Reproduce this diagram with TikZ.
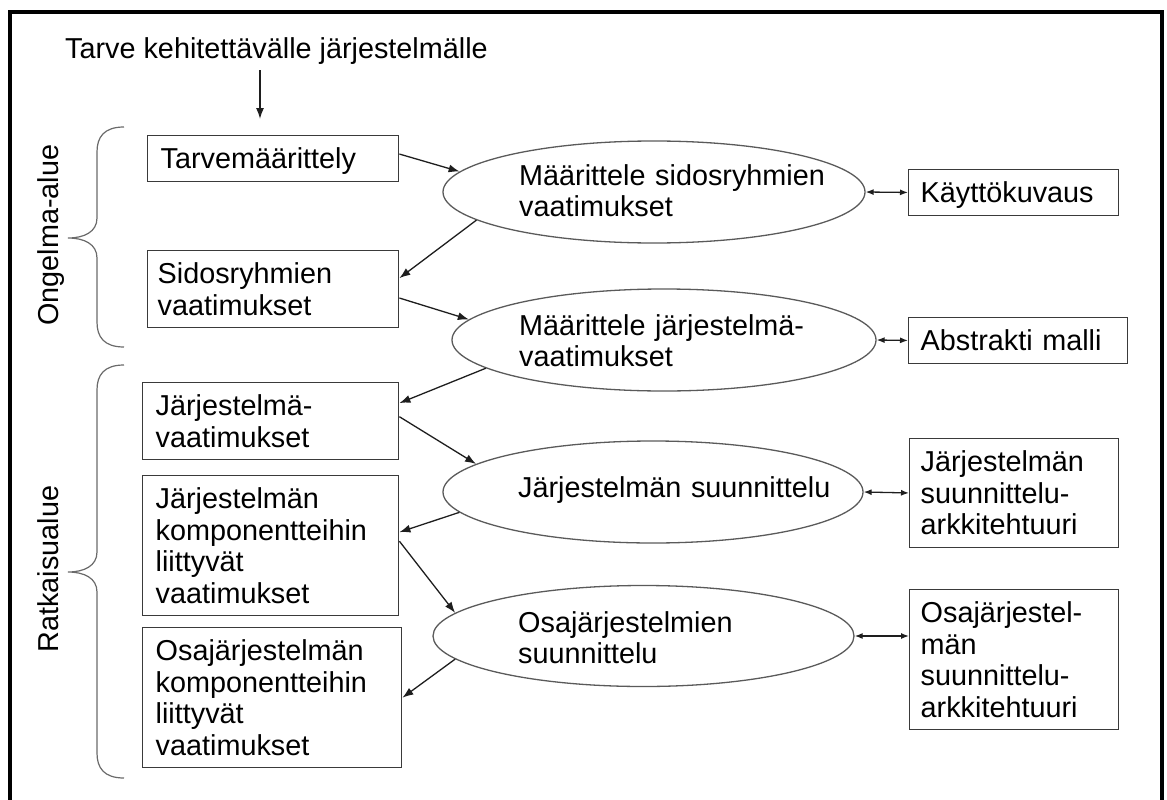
\documentclass[tikz,border=0pt]{standalone}
\usepackage{fontspec}
\setmainfont{Liberation Sans}
\usetikzlibrary{shapes.geometric,arrows.meta}

\definecolor{boxline}{HTML}{3A3A3A}
\definecolor{ellline}{HTML}{5A5A5A}
\definecolor{braceline}{HTML}{6A6A6A}
\definecolor{arrowline}{HTML}{1E1E1E}

\begin{document}
\begin{tikzpicture}[x=1pt,y=-1pt,
  every node/.append style={font=\fontsize{28.8pt}{31.5pt}\selectfont},
  boxnode/.style={draw=boxline, line width=1.4pt, rectangle, anchor=north west,
    inner ysep=12.5pt, text height=20.5pt, align=left},
  procnode/.style={draw=ellline, line width=1.3pt, ellipse, inner sep=0pt},
  proctext/.style={anchor=base west, inner sep=0pt, align=left, text width=340pt},
  flow/.style={draw=arrowline, line width=1.3pt, -{Latex[length=11pt,width=8pt]}},
  link/.style={draw=arrowline, line width=1.3pt,
    {Latex[length=8pt,width=6pt]}-{Latex[length=8pt,width=6pt]}},
  bracket/.style={draw=braceline, line width=1.2pt},
]
\useasboundingbox (0,0) rectangle (1167,800);
\clip (0,0) rectangle (1167,800);

% outer frame (open at the bottom edge of the page)
\draw[line width=4pt] (10,12) rectangle (1162,840);

% starting need and its arrow
\node[anchor=base west, inner xsep=0pt, inner ysep=5pt] (need) at (65,59)
  {Tarve kehitettävälle järjestelmälle};
\coordinate (needtip) at (260,119);
\draw[flow] (need.south -| needtip) -- (needtip);

% requirement boxes, left column
\node[boxnode, inner xsep=13pt, text width=225pt, text depth=0pt] (tarve) at (147,135)
  {Tarvemäärittely};
\node[boxnode, inner xsep=10pt, text width=231pt, text depth=31.5pt] (sidos) at (147,250)
  {Sidosryhmien\\vaatimukset};
\node[boxnode, inner xsep=13pt, text width=230pt, text depth=31.5pt] (jvaat) at (142,382)
  {Järjestelmä-\\vaatimukset};
\node[boxnode, inner xsep=13pt, text width=230pt, text depth=94.5pt] (jkomp) at (142,475)
  {Järjestelmän\\komponentteihin\\liittyvät\\vaatimukset};
\node[boxnode, inner xsep=13pt, text width=233pt, text depth=94.5pt] (okomp) at (142,627)
  {Osajärjestelmän\\komponentteihin\\liittyvät\\vaatimukset};

% result boxes, right column
\node[boxnode, inner xsep=12pt, text width=186pt, text depth=0pt] (kaytto) at (908,169)
  {Käyttökuvaus};
\node[boxnode, inner xsep=12pt, text width=195pt, text depth=0pt] (abstr) at (908,317)
  {Abstrakti malli};
\node[boxnode, inner xsep=11pt, text width=187pt, text depth=63pt] (jarch) at (909,438)
  {Järjestelmän\\suunnittelu-\\arkkitehtuuri};
\node[boxnode, inner xsep=11pt, text width=187pt, text depth=94.5pt] (oarch) at (909,589)
  {Osajärjestel-\\män\\suunnittelu-\\arkkitehtuuri};

% process ellipses
\node[procnode, minimum width=422pt, minimum height=102pt] (def1) at (654,192) {};
\node[procnode, minimum width=424pt, minimum height=102pt] (def2) at (664,340) {};
\node[procnode, minimum width=420pt, minimum height=102pt] (des1) at (653,492) {};
\node[procnode, minimum width=421pt, minimum height=101pt] (des2) at (643.5,636) {};

\node[proctext] (def1t) at (519,185) {Määrittele sidosryhmien\\vaatimukset};
\node[proctext] (def2t) at (519,335) {Määrittele järjestelmä-\\vaatimukset};
\node[proctext] (des1t) at (518,497) {Järjestelmän suunnittelu};
\node[proctext] (des2t) at (518,632) {Osajärjestelmien\\suunnittelu};

% main flow
\draw[flow] (tarve.2) -- (def1.174);
\draw[flow] (def1.189) -- (sidos.5);
\draw[flow] (sidos.-4) -- (def2.174);
\draw[flow] (def2.189) -- (jvaat.8);
\draw[flow] (jvaat.2) -- (des1.171);
\draw[flow] (des1.186) -- (jkomp.6);
\draw[flow] (jkomp.2) -- (des2.173);
\draw[flow] (des2.187) -- (okomp.east);

% two-way links to the results
\draw[link] (def1.east) -- (kaytto.west);
\draw[link] (def2.east) -- (abstr.west);
\draw[link] (des1.east) -- (jarch.west);
\draw[link] (des2.east) -- (des2.east -| oarch.west);

% area braces
\draw[bracket] (124,127) .. controls (104,127) and (97,137) .. (97,152) -- (97,218)
  .. controls (97,232) and (84,238) .. (68,238)
  .. controls (84,238) and (97,244) .. (97,258) -- (97,322)
  .. controls (97,337) and (104,347) .. (124,347);
\draw[bracket] (124,365) .. controls (104,365) and (97,375) .. (97,390) -- (97,552)
  .. controls (97,566) and (84,572) .. (68,572)
  .. controls (84,572) and (97,578) .. (97,592) -- (97,753)
  .. controls (97,768) and (104,778) .. (124,778);

\node[rotate=90, anchor=base] (probarea) at (58,235) {Ongelma-alue};
\node[rotate=90, anchor=base] (solarea) at (58,569) {Ratkaisualue};
\end{tikzpicture}
\end{document}
